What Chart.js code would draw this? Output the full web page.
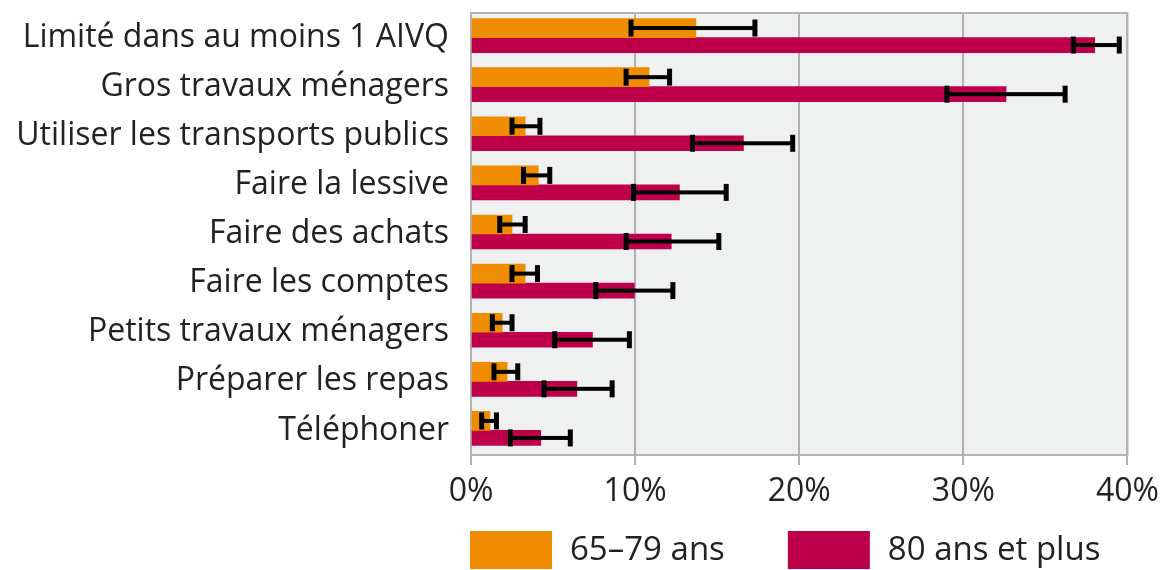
<!DOCTYPE html>
<html>
<head>
<meta charset="utf-8">
<script src="https://cdn.jsdelivr.net/npm/chart.js@4.4.1/dist/chart.umd.min.js"></script>
<style>
  html, body { margin: 0; padding: 0; background: #fff; }
  #wrap { width: 1167px; height: 570px; position: relative; }
</style>
</head>
<body>
<div id="wrap"><canvas id="myChart"></canvas></div>
<script>
var categories = ['Limité dans au moins 1 AIVQ', 'Gros travaux ménagers', 'Utiliser les transports publics',
  'Faire la lessive', 'Faire des achats', 'Faire les comptes', 'Petits travaux ménagers',
  'Préparer les repas', 'Téléphoner'];

// 65-79 ans
var val6579 = [13.7, 10.85, 3.3, 4.1, 2.5, 3.3, 1.9, 2.2, 1.15];
var low6579 = [9.75, 9.45, 2.5, 3.2, 1.75, 2.5, 1.3, 1.4, 0.65];
var high6579 = [17.3, 12.1, 4.2, 4.8, 3.3, 4.05, 2.5, 2.85, 1.55];

// 80 ans et plus
var val80 = [38.0, 32.6, 16.6, 12.7, 12.2, 9.95, 7.4, 6.45, 4.25];
var low80 = [36.7, 29.0, 13.5, 9.9, 9.45, 7.6, 5.1, 4.45, 2.4];
var high80 = [39.5, 36.2, 19.6, 15.55, 15.1, 12.3, 9.65, 8.6, 6.05];

var xTicks = [0, 10, 20, 30, 40];

var fontFamily = "'Open Sans', sans-serif";
var textColor = '#222';

// grey plot background + frame
const plotBg = {
  id: 'plotBg',
  beforeDraw(chart) {
    const a = chart.chartArea, ctx = chart.ctx;
    ctx.save();
    ctx.fillStyle = '#eff0f0';
    ctx.fillRect(a.left, a.top, a.right - a.left, a.bottom - a.top);
    ctx.restore();
  },
  beforeDatasetsDraw(chart) {
    const a = chart.chartArea, ctx = chart.ctx;
    ctx.save();
    ctx.strokeStyle = '#b4b4b4';
    ctx.lineWidth = 2;
    ctx.strokeRect(a.left, a.top, a.right - a.left, a.bottom - a.top);
    ctx.restore();
  }
};

// error bars, drawn from the low/high arrays
const errorBars = {
  id: 'errorBars',
  afterDatasetsDraw(chart) {
    const ctx = chart.ctx, xs = chart.scales.x;
    chart.data.datasets.forEach(function (ds, di) {
      const meta = chart.getDatasetMeta(di);
      meta.data.forEach(function (bar, i) {
        const x1 = xs.getPixelForValue(ds.low[i]);
        const x2 = xs.getPixelForValue(ds.high[i]);
        const y = bar.y, h = 17;
        ctx.save();
        ctx.fillStyle = '#000';
        ctx.fillRect(x1, y - 2, x2 - x1, 4);
        ctx.fillRect(x1 - 2.5, y - h / 2, 5, h);
        ctx.fillRect(x2 - 2.5, y - h / 2, 5, h);
        ctx.restore();
      });
    });
  }
};

// legend under the plot
const bottomLegend = {
  id: 'bottomLegend',
  afterDraw(chart) {
    const ctx = chart.ctx, a = chart.chartArea;
    let x = a.left - 1;
    const top = 531, bw = 82, bh = 38;
    ctx.save();
    ctx.font = '33px ' + fontFamily;
    ctx.textBaseline = 'middle';
    chart.data.datasets.forEach(function (ds) {
      ctx.fillStyle = ds.backgroundColor;
      ctx.fillRect(x, top, bw, bh);
      x += bw + 18;
      ctx.fillStyle = textColor;
      ctx.fillText(ds.label, x, top + bh / 2 + 1);
      x += ctx.measureText(ds.label).width + 63;
    });
    ctx.restore();
  }
};

const ctx = document.getElementById('myChart');
const myChart = new Chart(ctx, {
  type: 'bar',
  data: {
    labels: categories,
    datasets: [{
      label: '65–79 ans',
      data: val6579,
      low: low6579,
      high: high6579,
      backgroundColor: '#f08c00',
      barThickness: 19
    }, {
      label: '80 ans et plus',
      data: val80,
      low: low80,
      high: high80,
      backgroundColor: '#be004b',
      barThickness: 15
    }]
  },
  options: {
    indexAxis: 'y',
    responsive: true,
    maintainAspectRatio: false,
    animation: false,
    layout: { padding: { top: 13, right: 37, bottom: 45, left: 0 } },
    scales: {
      x: {
        min: 0,
        max: 40,
        afterBuildTicks: function (scale) {
          scale.ticks = xTicks.map(function (v) { return { value: v }; });
        },
        afterFit: function (scale) { scale.height = 70; },
        ticks: {
          callback: function (v) { return v + '%'; },
          font: { family: fontFamily, size: 32 },
          color: textColor,
          padding: 8,
          maxRotation: 0
        },
        grid: { color: '#b0b0b0', lineWidth: 2, tickLength: 10 },
        border: { display: false }
      },
      y: {
        afterFit: function (scale) {
          scale.width = 471;
          scale.paddingTop = 0;
          scale.paddingBottom = 0;
        },
        ticks: {
          font: { family: fontFamily, size: 32 },
          color: textColor,
          padding: 14,
          autoSkip: false
        },
        grid: { display: false },
        border: { display: false }
      }
    },
    plugins: {
      legend: { display: false },
      tooltip: { enabled: false }
    }
  },
  plugins: [plotBg, errorBars, bottomLegend]
});
</script>
</body>
</html>
